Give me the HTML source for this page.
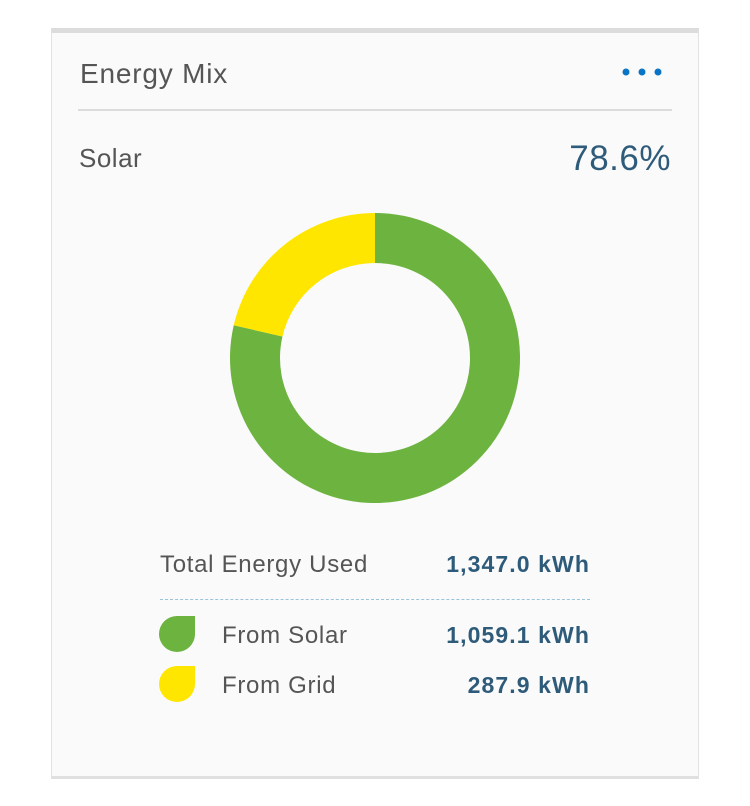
<!DOCTYPE html>
<html><head><meta charset="utf-8"><style>
body{margin:0;width:750px;height:806px;background:#fff;font-family:"Liberation Sans",sans-serif;position:relative;overflow:hidden}
.card{position:absolute;left:51px;top:28px;width:646px;height:743px;background:#fafafa;border:1px solid #e2e2e2;border-top:5px solid #dcdcdc;border-bottom:3px solid #e0e0e0;box-sizing:content-box}
.t{position:absolute;white-space:nowrap}
</style></head><body>
<div class="card"></div>
<div class="t" style="left:80px;top:58px;font-size:28px;letter-spacing:0.8px;color:#555">Energy Mix</div>
<svg style="position:absolute;left:615px;top:64px" width="50" height="16">
<circle cx="11" cy="8" r="3.5" fill="#0a74c4"/><circle cx="27" cy="8" r="3.5" fill="#0a74c4"/><circle cx="43" cy="8" r="3.5" fill="#0a74c4"/></svg>
<div style="position:absolute;left:78px;top:109px;width:594px;height:2px;background:#dcdcdc"></div>
<div class="t" style="left:79px;top:143px;font-size:26px;letter-spacing:0.5px;color:#555">Solar</div>
<div class="t" style="right:79px;top:139px;font-size:35px;letter-spacing:0.5px;color:#2f5b7a">78.6%</div>
<svg id="donut" style="position:absolute;left:0;top:0" width="750" height="806"></svg>
<div class="t" style="left:160px;top:551px;font-size:24px;letter-spacing:0.7px;color:#555">Total Energy Used</div>
<div class="t" style="right:160px;top:551px;font-size:23px;letter-spacing:1.1px;color:#2f5b7a;font-weight:bold">1,347.0 kWh</div>
<div style="position:absolute;left:160px;top:599px;width:430px;border-top:1.5px dashed #9cc3dc"></div>
<div style="position:absolute;left:159px;top:616px;width:36px;height:36px;background:#6db33f;border-radius:18px 0 18px 18px"></div>
<div class="t" style="left:222px;top:622px;font-size:24px;letter-spacing:0.7px;color:#555">From Solar</div>
<div class="t" style="right:160px;top:622px;font-size:23px;letter-spacing:1.1px;color:#2f5b7a;font-weight:bold">1,059.1 kWh</div>
<div style="position:absolute;left:159px;top:666px;width:36px;height:36px;background:#ffe600;border-radius:18px 0 18px 18px"></div>
<div class="t" style="left:222px;top:672px;font-size:24px;letter-spacing:0.7px;color:#555">From Grid</div>
<div class="t" style="right:160px;top:672px;font-size:23px;letter-spacing:1.1px;color:#2f5b7a;font-weight:bold">287.9 kWh</div>
<script>
const categories=["From Solar","From Grid"];
const values=[1059.1,287.9];
const colors=["#6db33f","#ffe600"];
const svg=document.getElementById('donut');
const cx=375,cy=358,R=145,r=95;
const total=values.reduce((a,b)=>a+b,0);
let a0=0;
function pt(rad,a){return [cx+rad*Math.sin(a),cy-rad*Math.cos(a)];}
values.forEach((v,i)=>{
const a1=a0+v/total*2*Math.PI;
const large=(a1-a0)>Math.PI?1:0;
const p1=pt(R,a0),p2=pt(R,a1),p3=pt(r,a1),p4=pt(r,a0);
const p=document.createElementNS('http://www.w3.org/2000/svg','path');
p.setAttribute('d',`M${p1}A${R},${R} 0 ${large} 1 ${p2}L${p3}A${r},${r} 0 ${large} 0 ${p4}Z`);
p.setAttribute('fill',colors[i]);


svg.appendChild(p);
a0=a1;
});
</script>
</body></html>
